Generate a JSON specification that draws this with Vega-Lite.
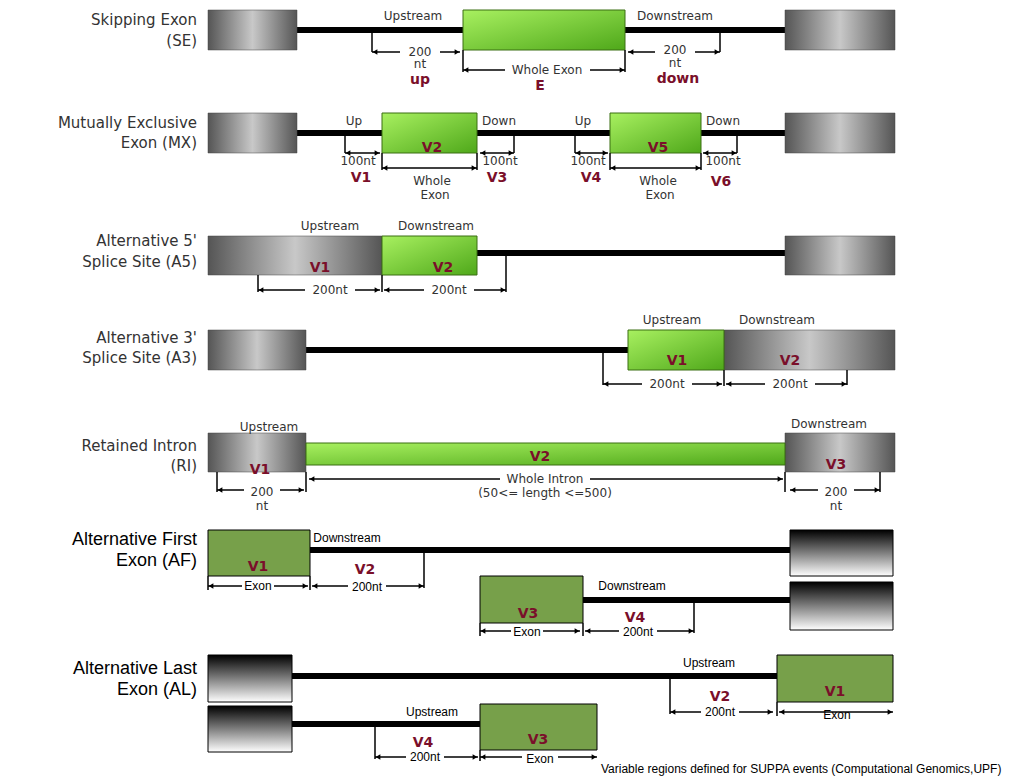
{
"$schema":"https://vega.github.io/schema/vega-lite/v6.json",
"width":1036,"height":777,"padding":0,
"autosize":{"type":"fit","contains":"padding"},
"config":{"view":{"stroke":null},"axis":{"disable":true}},
"background":"white",
"datasets":{
"boxes":[
{"t":"i","x":297,"x2":785,"y":27,"y2":33},{"t":"i","x":297,"x2":785,"y":130,"y2":136},{"t":"i","x":477,"x2":785,"y":250,"y2":256},{"t":"i","x":306,"x2":628,"y":347,"y2":353},{"t":"i","x":310,"x2":790,"y":547,"y2":553},{"t":"i","x":583,"x2":790,"y":597,"y2":603},{"t":"i","x":292,"x2":777,"y":673,"y2":679},{"t":"i","x":292,"x2":480,"y":721,"y2":727},
{"t":"g","x":208,"x2":297,"y":10,"y2":50},{"t":"g","x":785,"x2":895,"y":10,"y2":50},{"t":"g","x":208,"x2":297,"y":113,"y2":153},{"t":"g","x":785,"x2":895,"y":113,"y2":153},{"t":"g","x":208,"x2":382,"y":236,"y2":275},{"t":"g","x":785,"x2":895,"y":236,"y2":275},{"t":"g","x":208,"x2":306,"y":330,"y2":370},{"t":"g","x":724,"x2":895,"y":330,"y2":370},{"t":"g","x":208,"x2":306,"y":433,"y2":472},{"t":"g","x":785,"x2":895,"y":433,"y2":472},
{"t":"e","x":463,"x2":625,"y":10,"y2":50},{"t":"e","x":382,"x2":477,"y":113,"y2":153},{"t":"e","x":610,"x2":701,"y":113,"y2":153},{"t":"e","x":382,"x2":477,"y":236,"y2":275},{"t":"e","x":628,"x2":724,"y":330,"y2":370},{"t":"e","x":306,"x2":785,"y":443,"y2":465},
{"t":"o","x":208,"x2":310,"y":530,"y2":576},{"t":"o","x":480,"x2":583,"y":576,"y2":623},{"t":"o","x":777,"x2":893,"y":655,"y2":702},{"t":"o","x":480,"x2":597,"y":704,"y2":750},
{"t":"b","x":790,"x2":893,"y":530,"y2":576},{"t":"b","x":790,"x2":893,"y":582,"y2":630},{"t":"b","x":208,"x2":292,"y":655,"y2":702},{"t":"b","x":208,"x2":292,"y":706,"y2":752}
],
"rules":[
{"x":372,"y":33,"x2":372,"y2":52},{"x":372,"y":52,"x2":400,"y2":52},{"x":440,"y":52,"x2":460,"y2":52},{"x":463,"y":50,"x2":463,"y2":72},{"x":625,"y":50,"x2":625,"y2":72},{"x":463,"y":70,"x2":505,"y2":70},{"x":590,"y":70,"x2":625,"y2":70},{"x":628,"y":52,"x2":655,"y2":52},{"x":695,"y":52,"x2":720,"y2":52},{"x":720,"y":33,"x2":720,"y2":52},
{"x":345,"y":136,"x2":345,"y2":153},{"x":345,"y":153,"x2":380,"y2":153},{"x":382,"y":153,"x2":382,"y2":170},{"x":477,"y":153,"x2":477,"y2":170},{"x":382,"y":168,"x2":477,"y2":168},{"x":480,"y":153,"x2":514,"y2":153},{"x":514,"y":136,"x2":514,"y2":153},{"x":575,"y":136,"x2":575,"y2":153},{"x":575,"y":153,"x2":608,"y2":153},{"x":610,"y":153,"x2":610,"y2":170},{"x":701,"y":153,"x2":701,"y2":170},{"x":610,"y":168,"x2":701,"y2":168},{"x":703,"y":153,"x2":737,"y2":153},{"x":737,"y":136,"x2":737,"y2":153},
{"x":258,"y":275,"x2":258,"y2":292},{"x":258,"y":290,"x2":305,"y2":290},{"x":355,"y":290,"x2":380,"y2":290},{"x":382,"y":275,"x2":382,"y2":292},{"x":384,"y":290,"x2":424,"y2":290},{"x":474,"y":290,"x2":506,"y2":290},{"x":506,"y":256,"x2":506,"y2":292},
{"x":603,"y":353,"x2":603,"y2":385},{"x":603,"y":384,"x2":642,"y2":384},{"x":692,"y":384,"x2":722,"y2":384},{"x":724,"y":370,"x2":724,"y2":386},{"x":726,"y":384,"x2":765,"y2":384},{"x":815,"y":384,"x2":847,"y2":384},{"x":847,"y":370,"x2":847,"y2":385},
{"x":217,"y":472,"x2":217,"y2":492},{"x":217,"y":490,"x2":244,"y2":490},{"x":280,"y":490,"x2":304,"y2":490},{"x":306,"y":472,"x2":306,"y2":492},{"x":309,"y":479,"x2":500,"y2":479},{"x":590,"y":479,"x2":783,"y2":479},{"x":785,"y":472,"x2":785,"y2":492},{"x":790,"y":490,"x2":818,"y2":490},{"x":854,"y":490,"x2":880,"y2":490},{"x":880,"y":472,"x2":880,"y2":492},
{"x":208,"y":576,"x2":208,"y2":590},{"x":208,"y":586,"x2":242,"y2":586},{"x":274,"y":586,"x2":308,"y2":586},{"x":310,"y":576,"x2":310,"y2":590},{"x":312,"y":586,"x2":348,"y2":586},{"x":386,"y":586,"x2":424,"y2":586},{"x":424,"y":553,"x2":424,"y2":588},{"x":480,"y":623,"x2":480,"y2":636},{"x":480,"y":631,"x2":511,"y2":631},{"x":543,"y":631,"x2":580,"y2":631},{"x":583,"y":623,"x2":583,"y2":636},{"x":585,"y":631,"x2":619,"y2":631},{"x":657,"y":631,"x2":694,"y2":631},{"x":694,"y":603,"x2":694,"y2":633},
{"x":670,"y":679,"x2":670,"y2":714},{"x":670,"y":712,"x2":701,"y2":712},{"x":739,"y":712,"x2":773,"y2":712},{"x":777,"y":702,"x2":777,"y2":716},{"x":779,"y":712,"x2":893,"y2":712},{"x":375,"y":727,"x2":375,"y2":759},{"x":375,"y":757,"x2":406,"y2":757},{"x":444,"y":757,"x2":478,"y2":757},{"x":480,"y":750,"x2":480,"y2":761},{"x":480,"y":757,"x2":522,"y2":757},{"x":558,"y":757,"x2":597,"y2":757}
],
"heads":[
{"x":375,"y":52,"s":"triangle-left"},{"x":457,"y":52,"s":"triangle-right"},{"x":466,"y":70,"s":"triangle-left"},{"x":622,"y":70,"s":"triangle-right"},{"x":631,"y":52,"s":"triangle-left"},{"x":717,"y":52,"s":"triangle-right"},
{"x":348,"y":153,"s":"triangle-left"},{"x":377,"y":153,"s":"triangle-right"},{"x":385,"y":168,"s":"triangle-left"},{"x":474,"y":168,"s":"triangle-right"},{"x":483,"y":153,"s":"triangle-left"},{"x":511,"y":153,"s":"triangle-right"},{"x":578,"y":153,"s":"triangle-left"},{"x":605,"y":153,"s":"triangle-right"},{"x":613,"y":168,"s":"triangle-left"},{"x":698,"y":168,"s":"triangle-right"},{"x":706,"y":153,"s":"triangle-left"},{"x":734,"y":153,"s":"triangle-right"},
{"x":261,"y":290,"s":"triangle-left"},{"x":377,"y":290,"s":"triangle-right"},{"x":387,"y":290,"s":"triangle-left"},{"x":503,"y":290,"s":"triangle-right"},
{"x":606,"y":384,"s":"triangle-left"},{"x":719,"y":384,"s":"triangle-right"},{"x":729,"y":384,"s":"triangle-left"},{"x":844,"y":384,"s":"triangle-right"},
{"x":220,"y":490,"s":"triangle-left"},{"x":301,"y":490,"s":"triangle-right"},{"x":312,"y":479,"s":"triangle-left"},{"x":780,"y":479,"s":"triangle-right"},{"x":793,"y":490,"s":"triangle-left"},{"x":877,"y":490,"s":"triangle-right"},
{"x":211,"y":586,"s":"triangle-left"},{"x":305,"y":586,"s":"triangle-right"},{"x":315,"y":586,"s":"triangle-left"},{"x":421,"y":586,"s":"triangle-right"},{"x":483,"y":631,"s":"triangle-left"},{"x":577,"y":631,"s":"triangle-right"},{"x":588,"y":631,"s":"triangle-left"},{"x":691,"y":631,"s":"triangle-right"},
{"x":673,"y":712,"s":"triangle-left"},{"x":770,"y":712,"s":"triangle-right"},{"x":782,"y":712,"s":"triangle-left"},{"x":890,"y":712,"s":"triangle-right"},{"x":378,"y":757,"s":"triangle-left"},{"x":475,"y":757,"s":"triangle-right"},{"x":483,"y":757,"s":"triangle-left"},{"x":594,"y":757,"s":"triangle-right"}
],
"labels":[
{"k":"t","x":197,"y":20,"text":"Skipping Exon"},{"k":"t","x":197,"y":41,"text":"(SE)"},{"k":"t","x":197,"y":123,"text":"Mutually Exclusive"},{"k":"t","x":197,"y":143,"text":"Exon (MX)"},{"k":"t","x":197,"y":241,"text":"Alternative 5'"},{"k":"t","x":197,"y":262,"text":"Splice Site (A5)"},{"k":"t","x":197,"y":338,"text":"Alternative 3'"},{"k":"t","x":197,"y":358,"text":"Splice Site (A3)"},{"k":"t","x":197,"y":446,"text":"Retained Intron"},{"k":"t","x":197,"y":466,"text":"(RI)"},
{"k":"a","x":197,"y":540,"text":"Alternative First"},{"k":"a","x":197,"y":561,"text":"Exon (AF)"},{"k":"a","x":197,"y":669,"text":"Alternative Last"},{"k":"a","x":197,"y":690,"text":"Exon (AL)"},
{"k":"s","x":413,"y":16,"text":"Upstream"},{"k":"s","x":675,"y":16,"text":"Downstream"},{"k":"s","x":420,"y":52,"text":"200"},{"k":"s","x":420,"y":64,"text":"nt"},{"k":"s","x":547,"y":70,"text":"Whole Exon"},{"k":"s","x":675,"y":50,"text":"200"},{"k":"s","x":675,"y":63,"text":"nt"},
{"k":"s","x":354,"y":121,"text":"Up"},{"k":"s","x":499,"y":121,"text":"Down"},{"k":"s","x":583,"y":121,"text":"Up"},{"k":"s","x":723,"y":121,"text":"Down"},{"k":"s","x":358,"y":161,"text":"100nt"},{"k":"s","x":432,"y":181,"text":"Whole"},{"k":"s","x":435,"y":195,"text":"Exon"},{"k":"s","x":500,"y":161,"text":"100nt"},{"k":"s","x":588,"y":161,"text":"100nt"},{"k":"s","x":658,"y":181,"text":"Whole"},{"k":"s","x":660,"y":195,"text":"Exon"},{"k":"s","x":723,"y":161,"text":"100nt"},
{"k":"s","x":330,"y":226,"text":"Upstream"},{"k":"s","x":436,"y":226,"text":"Downstream"},{"k":"s","x":330,"y":290,"text":"200nt"},{"k":"s","x":449,"y":290,"text":"200nt"},
{"k":"s","x":672,"y":320,"text":"Upstream"},{"k":"s","x":777,"y":320,"text":"Downstream"},{"k":"s","x":667,"y":384,"text":"200nt"},{"k":"s","x":790,"y":384,"text":"200nt"},
{"k":"s","x":269,"y":427,"text":"Upstream"},{"k":"s","x":829,"y":424,"text":"Downstream"},{"k":"s","x":262,"y":492,"text":"200"},{"k":"s","x":262,"y":506,"text":"nt"},{"k":"s","x":545,"y":479,"text":"Whole Intron"},{"k":"s","x":545,"y":493,"text":"(50<= length <=500)"},{"k":"s","x":836,"y":492,"text":"200"},{"k":"s","x":836,"y":506,"text":"nt"},
{"k":"f","x":347,"y":538,"text":"Downstream"},{"k":"f","x":258,"y":586,"text":"Exon"},{"k":"f","x":367,"y":587,"text":"200nt"},{"k":"f","x":632,"y":586,"text":"Downstream"},{"k":"f","x":527,"y":632,"text":"Exon"},{"k":"f","x":638,"y":632,"text":"200nt"},{"k":"f","x":709,"y":663,"text":"Upstream"},{"k":"f","x":720,"y":712,"text":"200nt"},{"k":"f","x":837,"y":715,"text":"Exon"},{"k":"f","x":432,"y":712,"text":"Upstream"},{"k":"f","x":425,"y":757,"text":"200nt"},{"k":"f","x":540,"y":759,"text":"Exon"},
{"k":"r","x":420,"y":80,"text":"up"},{"k":"r","x":540,"y":86,"text":"E"},{"k":"r","x":678,"y":79,"text":"down"},{"k":"r","x":361,"y":178,"text":"V1"},{"k":"r","x":432,"y":148,"text":"V2"},{"k":"r","x":497,"y":178,"text":"V3"},{"k":"r","x":591,"y":178,"text":"V4"},{"k":"r","x":658,"y":148,"text":"V5"},{"k":"r","x":721,"y":182,"text":"V6"},{"k":"r","x":320,"y":268,"text":"V1"},{"k":"r","x":443,"y":268,"text":"V2"},{"k":"r","x":677,"y":361,"text":"V1"},{"k":"r","x":790,"y":361,"text":"V2"},{"k":"r","x":260,"y":470,"text":"V1"},{"k":"r","x":540,"y":457,"text":"V2"},{"k":"r","x":836,"y":465,"text":"V3"},{"k":"r","x":258,"y":567,"text":"V1"},{"k":"r","x":365,"y":570,"text":"V2"},{"k":"r","x":528,"y":614,"text":"V3"},{"k":"r","x":635,"y":618,"text":"V4"},{"k":"r","x":835,"y":692,"text":"V1"},{"k":"r","x":720,"y":697,"text":"V2"},{"k":"r","x":538,"y":740,"text":"V3"},{"k":"r","x":423,"y":743,"text":"V4"},
{"k":"n","x":601,"y":769,"text":"Variable regions defined for SUPPA events (Computational Genomics,UPF)"}
]},
"encoding":{
"x":{"field":"x","type":"quantitative","scale":{"domain":[0,1036],"nice":false,"zero":false},"axis":null},
"y":{"field":"y","type":"quantitative","scale":{"domain":[0,777],"nice":false,"zero":false,"reverse":true},"axis":null}
},
"layer":[
{"data":{"name":"boxes"},"transform":[{"filter":"datum.t=='i'"}],"mark":{"type":"rect","fill":"black"},"encoding":{"x2":{"field":"x2"},"y2":{"field":"y2"}}},
{"data":{"name":"boxes"},"transform":[{"filter":"datum.t=='g'"}],"mark":{"type":"rect","stroke":"#444","strokeWidth":0.5,"fill":{"gradient":"linear","x1":0,"y1":0,"x2":1,"y2":0,"stops":[{"offset":0,"color":"#555"},{"offset":0.5,"color":"#c8c8c8"},{"offset":1,"color":"#555"}]}},"encoding":{"x2":{"field":"x2"},"y2":{"field":"y2"}}},
{"data":{"name":"boxes"},"transform":[{"filter":"datum.t=='e'"}],"mark":{"type":"rect","stroke":"#3a6e12","strokeWidth":1,"fill":{"gradient":"linear","x1":0,"y1":0,"x2":1,"y2":1,"stops":[{"offset":0,"color":"#a8f060"},{"offset":1,"color":"#4fa81a"}]}},"encoding":{"x2":{"field":"x2"},"y2":{"field":"y2"}}},
{"data":{"name":"boxes"},"transform":[{"filter":"datum.t=='o'"}],"mark":{"type":"rect","fill":"#77a04a","stroke":"black","strokeWidth":1},"encoding":{"x2":{"field":"x2"},"y2":{"field":"y2"}}},
{"data":{"name":"boxes"},"transform":[{"filter":"datum.t=='b'"}],"mark":{"type":"rect","stroke":"black","strokeWidth":1,"fill":{"gradient":"linear","x1":0,"y1":0,"x2":0,"y2":1,"stops":[{"offset":0,"color":"#000"},{"offset":1,"color":"#fff"}]}},"encoding":{"x2":{"field":"x2"},"y2":{"field":"y2"}}},
{"data":{"name":"rules"},"mark":{"type":"rule","color":"black","strokeWidth":1.5},"encoding":{"x2":{"field":"x2"},"y2":{"field":"y2"}}},
{"data":{"name":"heads"},"mark":{"type":"point","filled":true,"color":"black","size":30,"opacity":1},"encoding":{"shape":{"field":"s","type":"nominal","scale":null,"legend":null}}},
{"data":{"name":"labels"},"transform":[{"filter":"datum.k=='t'"}],"mark":{"type":"text","align":"right","baseline":"middle","font":"DejaVu Sans","fontSize":15,"color":"#333"},"encoding":{"text":{"field":"text"}}},
{"data":{"name":"labels"},"transform":[{"filter":"datum.k=='a'"}],"mark":{"type":"text","align":"right","baseline":"middle","font":"Liberation Sans","fontSize":18,"color":"black"},"encoding":{"text":{"field":"text"}}},
{"data":{"name":"labels"},"transform":[{"filter":"datum.k=='s'"}],"mark":{"type":"text","align":"center","baseline":"middle","font":"DejaVu Sans","fontSize":12,"color":"#333"},"encoding":{"text":{"field":"text"}}},
{"data":{"name":"labels"},"transform":[{"filter":"datum.k=='f'"}],"mark":{"type":"text","align":"center","baseline":"middle","font":"Liberation Sans","fontSize":12,"color":"black"},"encoding":{"text":{"field":"text"}}},
{"data":{"name":"labels"},"transform":[{"filter":"datum.k=='r'"}],"mark":{"type":"text","align":"center","baseline":"middle","font":"DejaVu Sans","fontSize":14,"fontWeight":"bold","color":"#7a0f2a"},"encoding":{"text":{"field":"text"}}},
{"data":{"name":"labels"},"transform":[{"filter":"datum.k=='n'"}],"mark":{"type":"text","align":"left","baseline":"middle","font":"Liberation Sans","fontSize":12,"color":"black"},"encoding":{"text":{"field":"text"}}}
]
}
